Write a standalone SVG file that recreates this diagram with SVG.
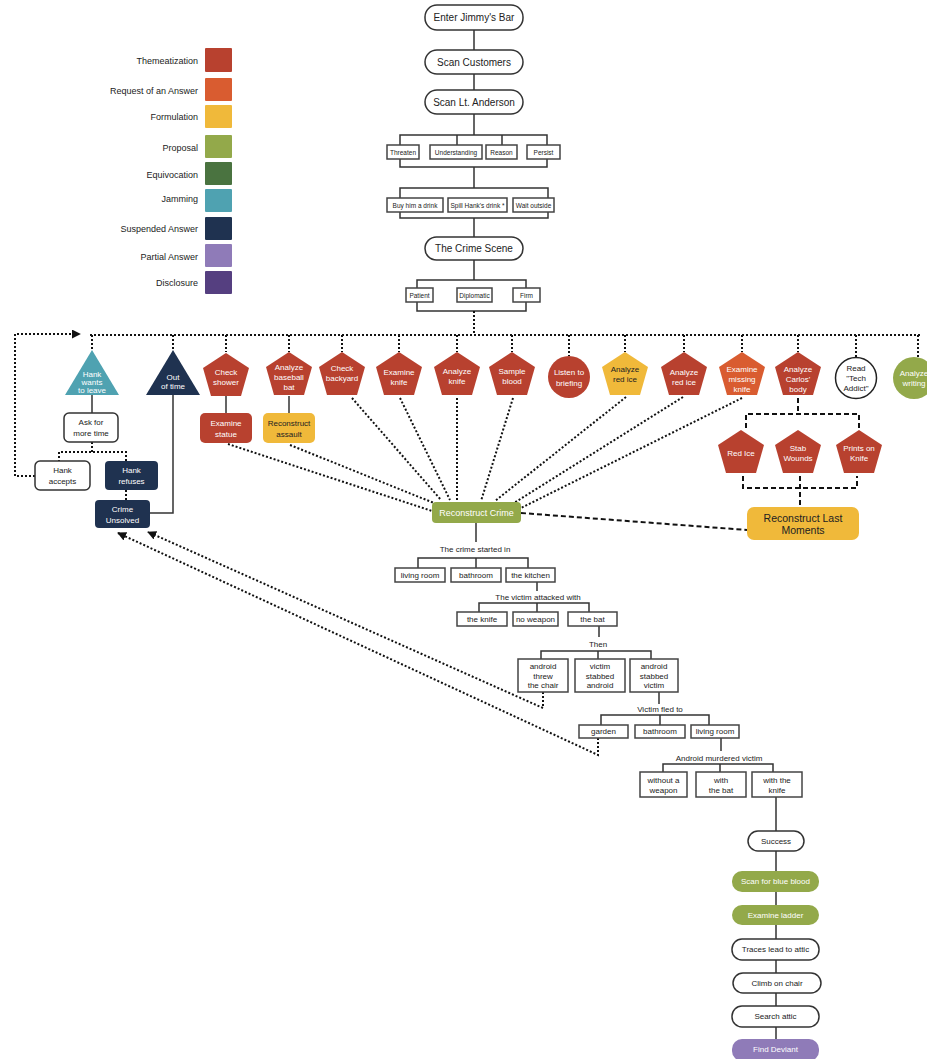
<svg xmlns="http://www.w3.org/2000/svg" width="927" height="1059" viewBox="0 0 927 1059">
<defs>
<style>
text{font-family:"Liberation Sans",Arial,sans-serif;fill:#222;text-anchor:middle;dominant-baseline:central}
.leg{font-size:9px;text-anchor:end}
.top{font-size:10px}
.sm{font-size:6.5px}
.lt{font-size:8px}
.w{fill:#fff}
.pt{font-size:8px;fill:#fff}
.rr{fill:#fff;stroke:#333;stroke-width:1.5}
.bx{fill:#fff;stroke:#444;stroke-width:1.5}
.ln{fill:none;stroke:#333;stroke-width:1.5}
.dot{fill:none;stroke:#111;stroke-width:2;stroke-dasharray:2 2}
.dash{fill:none;stroke:#111;stroke-width:2;stroke-dasharray:5 3}
.red{fill:#b8412f}.org{fill:#d95c30}.yel{fill:#f0b93a}.grn{fill:#93a94a}.dgr{fill:#4a7340}.tea{fill:#4fa2b1}.nav{fill:#1f3250}.lav{fill:#8f7bb8}.pur{fill:#553f80}
</style>
<marker id="arr" viewBox="0 0 10 10" refX="9" refY="5" markerWidth="9" markerHeight="9" markerUnits="userSpaceOnUse" orient="auto"><path d="M0,0L10,5L0,10z" fill="#111"/></marker>
<path id="pent" d="M0,0 L23,15 L15,43 L-15,43 L-23,15 Z"/>
</defs>

<g id="legend">
<text class="leg" x="198" y="61">Themeatization</text><rect class="red" x="205" y="48" width="27" height="24" rx="1"/>
<text class="leg" x="198" y="91">Request of an Answer</text><rect class="org" x="205" y="78" width="27" height="23" rx="1"/>
<text class="leg" x="198" y="117">Formulation</text><rect class="yel" x="205" y="105" width="27" height="23" rx="1"/>
<text class="leg" x="198" y="148">Proposal</text><rect class="grn" x="205" y="135" width="27" height="23" rx="1"/>
<text class="leg" x="198" y="175">Equivocation</text><rect class="dgr" x="205" y="162" width="27" height="23" rx="1"/>
<text class="leg" x="198" y="199">Jamming</text><rect class="tea" x="205" y="189" width="27" height="23" rx="1"/>
<text class="leg" x="198" y="229">Suspended Answer</text><rect class="nav" x="205" y="217" width="27" height="23" rx="1"/>
<text class="leg" x="198" y="257">Partial Answer</text><rect class="lav" x="205" y="244" width="27" height="23" rx="1"/>
<text class="leg" x="198" y="283">Disclosure</text><rect class="pur" x="205" y="271" width="27" height="23" rx="1"/>
</g>

<g id="connectors">
<!-- top solid flow -->
<path class="ln" d="M474,30V50M474,74V90M474,114V135M400,135H547V167H400ZM457,135V145M502,135V145M474,167V188M400,188H548V218H400ZM474,218V237M474,260V280M417,280H526V311H417Z"/>
<!-- main dotted bus -->
<path class="dot" d="M474,311V335M90,335H921M92,335V350M173,335V350M226,335V352M289,335V352M342,335V352M399,335V352M457,335V352M512,335V352M569,335V356M625,335V352M684,335V352M742,335V352M798,335V352M856,335V357M918,335V357"/>
<path class="dot" d="M35,476H15V334H80" marker-end="url(#arr)"/>
<!-- left column -->
<path class="ln" d="M92,395V413M173,395V513H150M226,396V413M289,396V413"/>
<path class="dot" d="M92,442V452M59,462V452H126V462M126,490V500"/>
<!-- fan -->
<path class="dot" d="M228,444L432,511M290,445L434,503M352,398L441,500M400,398L450,500M457,398V501M513,398L481,501M626,397L495,501M683,397L514,503M742,398L521,508"/>
<path class="dash" d="M521,513L747,530"/>
<!-- Carlos bracket -->
<path class="dash" d="M798,398V414M746,428V414H859V428M743,476V488H857V476M800,476V507"/>
<!-- lower tree -->
<path class="ln" d="M476,523V542M418,568V558H528V568M476,558V568M537,582V591M479,612V603H589V612M537,603V612M599,626V637M541,659V651H651V659M598,651V659M659,692V704M601,725V715H709V725M660,715V725M721,738V751M663,772V764H773V772M720,764V772M776,797V831M776,851V871M776,892V905M776,925V939M776,960V973M776,993V1006M776,1027V1039"/>
<path class="dot" d="M543,692V708L148,532" marker-end="url(#arr)"/>
<path class="dot" d="M598,738V755L118,533" marker-end="url(#arr)"/>
</g>

<g id="n-enter"><rect class="rr" x="425" y="5" width="98" height="25" rx="12"/><text class="top" x="474" y="17.5">Enter Jimmy's Bar</text></g>
<g id="n-scancust"><rect class="rr" x="425" y="50" width="98" height="24" rx="12"/><text class="top" x="474" y="62">Scan Customers</text></g>
<g id="n-scanlt"><rect class="rr" x="425" y="90" width="98" height="24" rx="12"/><text class="top" x="474" y="102">Scan Lt. Anderson</text></g>

<g id="n-threaten"><rect class="bx" x="387" y="145" width="32" height="14"/><text class="sm" x="403" y="152">Threaten</text></g>
<g id="n-understanding"><rect class="bx" x="430" y="145" width="52" height="14"/><text class="sm" x="456" y="152">Understanding</text></g>
<g id="n-reason"><rect class="bx" x="486" y="145" width="31" height="14"/><text class="sm" x="501.5" y="152">Reason</text></g>
<g id="n-persist"><rect class="bx" x="527" y="145" width="33" height="14"/><text class="sm" x="543.5" y="152">Persist</text></g>

<g id="n-buy"><rect class="bx" x="387" y="198" width="56" height="14"/><text class="sm" x="415" y="205">Buy him a drink</text></g>
<g id="n-spill"><rect class="bx" x="448" y="198" width="59" height="14"/><text class="sm" x="477.5" y="205">Spill Hank's drink *</text></g>
<g id="n-wait"><rect class="bx" x="513" y="198" width="41" height="14"/><text class="sm" x="533.5" y="205">Wait outside</text></g>

<g id="n-crimescene"><rect class="rr" x="425" y="237" width="98" height="23" rx="11.5"/><text class="top" x="474" y="248.5">The Crime Scene</text></g>

<g id="n-patient"><rect class="bx" x="406" y="288" width="27" height="14"/><text class="sm" x="419.5" y="295">Patient</text></g>
<g id="n-diplomatic"><rect class="bx" x="457" y="288" width="35" height="14"/><text class="sm" x="474.5" y="295">Diplomatic</text></g>
<g id="n-firm"><rect class="bx" x="513" y="288" width="27" height="14"/><text class="sm" x="526.5" y="295">Firm</text></g>

<g id="n-hankleave"><path class="tea" d="M92,350L119,395H65Z"/><text class="pt"><tspan x="92" y="374">Hank</tspan><tspan x="92" y="382">wants</tspan><tspan x="92" y="390">to leave</tspan></text></g>
<g id="n-outoftime"><path class="nav" d="M173,350L200,395H146Z"/><text class="pt"><tspan x="173" y="377">Out</tspan><tspan x="173" y="386">of time</tspan></text></g>
<g id="n-askmore"><rect class="rr" x="64" y="413" width="54" height="29" rx="5"/><text class="lt"><tspan x="91" y="422">Ask for</tspan><tspan x="91" y="433">more time</tspan></text></g>
<g id="n-hankaccepts"><rect class="rr" x="35" y="461" width="55" height="29" rx="5"/><text class="lt"><tspan x="62.5" y="470">Hank</tspan><tspan x="62.5" y="481">accepts</tspan></text></g>
<g id="n-hankrefuses"><rect class="nav" x="105" y="461" width="53" height="29" rx="4"/><text class="lt w"><tspan x="131.5" y="470">Hank</tspan><tspan x="131.5" y="481">refuses</tspan></text></g>
<g id="n-unsolved"><rect class="nav" x="95" y="500" width="55" height="28" rx="4"/><text class="lt w"><tspan x="122.5" y="509">Crime</tspan><tspan x="122.5" y="520">Unsolved</tspan></text></g>

<g id="n-checkshower"><use href="#pent" x="226" y="353" class="red"/><text class="pt"><tspan x="226" y="372">Check</tspan><tspan x="226" y="382">shower</tspan></text></g>
<g id="n-examinestatue"><rect class="red" x="200" y="413" width="52" height="30" rx="5"/><text class="pt"><tspan x="226" y="423">Examine</tspan><tspan x="226" y="434">statue</tspan></text></g>
<g id="n-baseball"><use href="#pent" x="289" y="352" class="red"/><text class="pt"><tspan x="289" y="367">Analyze</tspan><tspan x="289" y="377">baseball</tspan><tspan x="289" y="387">bat</tspan></text></g>
<g id="n-reconassault"><rect class="yel" x="263" y="413" width="52" height="30" rx="5"/><text class="pt" style="fill:#222"><tspan x="289" y="423">Reconstruct</tspan><tspan x="289" y="434">assault</tspan></text></g>
<g id="n-backyard"><use href="#pent" x="342" y="352" class="red"/><text class="pt"><tspan x="342" y="368">Check</tspan><tspan x="342" y="378">backyard</tspan></text></g>
<g id="n-examknife"><use href="#pent" x="399" y="352" class="red"/><text class="pt"><tspan x="399" y="372">Examine</tspan><tspan x="399" y="382">knife</tspan></text></g>
<g id="n-anaknife"><use href="#pent" x="457" y="352" class="red"/><text class="pt"><tspan x="457" y="371">Analyze</tspan><tspan x="457" y="381">knife</tspan></text></g>
<g id="n-blood"><use href="#pent" x="512" y="352" class="red"/><text class="pt"><tspan x="512" y="371">Sample</tspan><tspan x="512" y="381">blood</tspan></text></g>
<g id="n-briefing"><circle class="red" cx="569" cy="377" r="21"/><text class="pt"><tspan x="569" y="372">Listen to</tspan><tspan x="569" y="383">briefing</tspan></text></g>
<g id="n-redice1"><use href="#pent" x="625" y="352" class="yel"/><text class="pt" style="fill:#222"><tspan x="625" y="369">Analyze</tspan><tspan x="625" y="379">red ice</tspan></text></g>
<g id="n-redice2"><use href="#pent" x="684" y="352" class="red"/><text class="pt"><tspan x="684" y="372">Analyze</tspan><tspan x="684" y="382">red ice</tspan></text></g>
<g id="n-missingknife"><use href="#pent" x="742" y="352" class="org"/><text class="pt"><tspan x="742" y="369">Examine</tspan><tspan x="742" y="379">missing</tspan><tspan x="742" y="389">knife</tspan></text></g>
<g id="n-carlos"><use href="#pent" x="798" y="352" class="red"/><text class="pt"><tspan x="798" y="369">Analyze</tspan><tspan x="798" y="379">Carlos'</tspan><tspan x="798" y="389">body</tspan></text></g>
<g id="n-techaddict"><circle cx="856" cy="378" r="20.5" fill="#fff" stroke="#222" stroke-width="1.5"/><text class="pt" style="fill:#222"><tspan x="856" y="368">Read</tspan><tspan x="856" y="378">"Tech</tspan><tspan x="856" y="388">Addict"</tspan></text></g>
<g id="n-writing"><circle class="grn" cx="914" cy="378" r="21"/><text class="pt"><tspan x="914" y="373">Analyze</tspan><tspan x="914" y="383">writing</tspan></text></g>

<g id="n-redice3"><use href="#pent" x="741" y="430" class="red"/><text class="pt" x="741" y="453">Red Ice</text></g>
<g id="n-stab"><use href="#pent" x="798" y="430" class="red"/><text class="pt"><tspan x="798" y="448">Stab</tspan><tspan x="798" y="458">Wounds</tspan></text></g>
<g id="n-prints"><use href="#pent" x="859" y="430" class="red"/><text class="pt"><tspan x="859" y="448">Prints on</tspan><tspan x="859" y="458">Knife</tspan></text></g>

<g id="n-reconcrime"><rect class="grn" x="432" y="502" width="89" height="21" rx="4"/><text class="w" style="font-size:9px" x="476.5" y="512.5">Reconstruct Crime</text></g>
<g id="n-lastmoments"><rect class="yel" x="747" y="507" width="112" height="33" rx="7"/><text style="font-size:10.5px"><tspan x="803" y="518">Reconstruct Last</tspan><tspan x="803" y="530">Moments</tspan></text></g>

<g id="n-q1"><text class="lt" x="475" y="549">The crime started in</text></g>
<g id="n-livingroom1"><rect class="bx" x="395" y="568" width="50" height="14"/><text class="lt" x="420" y="575">living room</text></g>
<g id="n-bathroom1"><rect class="bx" x="451" y="568" width="50" height="14"/><text class="lt" x="476" y="575">bathroom</text></g>
<g id="n-kitchen"><rect class="bx" x="506" y="568" width="49" height="14"/><text class="lt" x="530.5" y="575">the kitchen</text></g>

<g id="n-q2"><text class="lt" x="538" y="597">The victim attacked with</text></g>
<g id="n-theknife"><rect class="bx" x="457" y="612" width="50" height="14"/><text class="lt" x="482" y="619">the knife</text></g>
<g id="n-noweapon"><rect class="bx" x="513" y="612" width="45" height="14"/><text class="lt" x="535.5" y="619">no weapon</text></g>
<g id="n-thebat"><rect class="bx" x="568" y="612" width="49" height="14"/><text class="lt" x="592.5" y="619">the bat</text></g>

<g id="n-q3"><text class="lt" x="598" y="644">Then</text></g>
<g id="n-threwchair"><rect class="bx" x="518" y="659" width="50" height="33"/><text class="lt"><tspan x="543" y="666">android</tspan><tspan x="543" y="675.5">threw</tspan><tspan x="543" y="685">the chair</tspan></text></g>
<g id="n-stabbedandroid"><rect class="bx" x="575" y="659" width="50" height="33"/><text class="lt"><tspan x="600" y="666">victim</tspan><tspan x="600" y="675.5">stabbed</tspan><tspan x="600" y="685">android</tspan></text></g>
<g id="n-stabbedvictim"><rect class="bx" x="630" y="659" width="48" height="33"/><text class="lt"><tspan x="654" y="666">android</tspan><tspan x="654" y="675.5">stabbed</tspan><tspan x="654" y="685">victim</tspan></text></g>

<g id="n-q4"><text class="lt" x="660" y="709">Victim fled to</text></g>
<g id="n-garden"><rect class="bx" x="579" y="725" width="49" height="13"/><text class="lt" x="603.5" y="731.5">garden</text></g>
<g id="n-bathroom2"><rect class="bx" x="635" y="725" width="50" height="13"/><text class="lt" x="660" y="731.5">bathroom</text></g>
<g id="n-livingroom2"><rect class="bx" x="691" y="725" width="48" height="13"/><text class="lt" x="715" y="731.5">living room</text></g>

<g id="n-q5"><text class="lt" x="719" y="758">Android murdered victim</text></g>
<g id="n-without"><rect class="bx" x="640" y="772" width="47" height="25"/><text class="lt"><tspan x="663.5" y="779.5">without a</tspan><tspan x="663.5" y="789.5">weapon</tspan></text></g>
<g id="n-withbat"><rect class="bx" x="696" y="772" width="50" height="25"/><text class="lt"><tspan x="721" y="779.5">with</tspan><tspan x="721" y="789.5">the bat</tspan></text></g>
<g id="n-withknife"><rect class="bx" x="752" y="772" width="50" height="25"/><text class="lt"><tspan x="777" y="779.5">with the</tspan><tspan x="777" y="789.5">knife</tspan></text></g>

<g id="n-success"><rect class="rr" x="748" y="831" width="56" height="20" rx="10"/><text class="lt" x="776" y="841">Success</text></g>
<g id="n-blueblood"><rect class="grn" x="732" y="871" width="87" height="21" rx="10"/><text class="lt w" x="775.5" y="881.5">Scan for blue blood</text></g>
<g id="n-ladder"><rect class="grn" x="732" y="905" width="87" height="20" rx="10"/><text class="lt w" x="775.5" y="915">Examine ladder</text></g>
<g id="n-traces"><rect class="rr" x="732" y="939" width="87" height="21" rx="10"/><text class="lt" x="775.5" y="949.5">Traces lead to attic</text></g>
<g id="n-climb"><rect class="rr" x="733" y="973" width="88" height="20" rx="10"/><text class="lt" x="777" y="983">Climb on chair</text></g>
<g id="n-search"><rect class="rr" x="732" y="1006" width="87" height="21" rx="10"/><text class="lt" x="775.5" y="1016.5">Search attic</text></g>
<g id="n-deviant"><rect class="lav" x="732" y="1039" width="87" height="22" rx="10"/><text class="lt w" x="775.5" y="1049">Find Deviant</text></g>
</svg>
